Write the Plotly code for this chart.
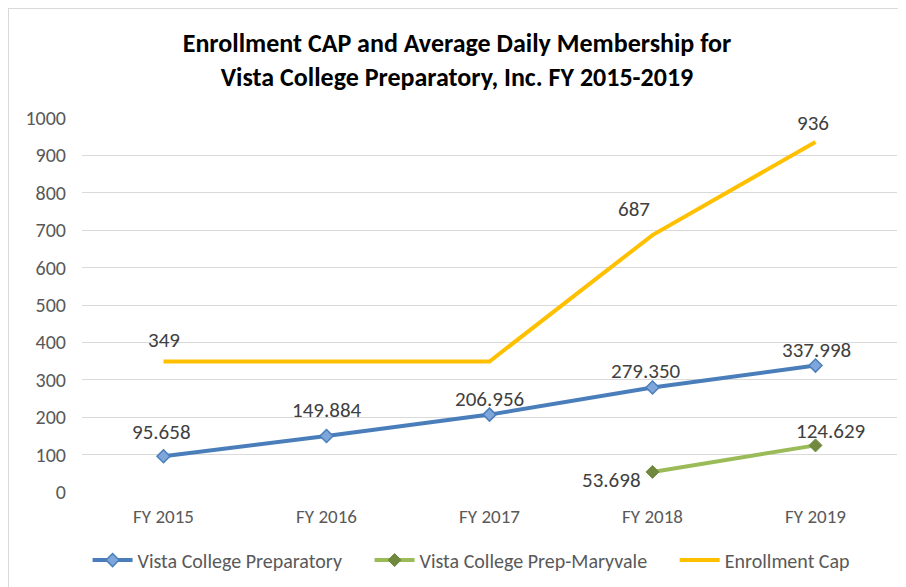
import plotly.graph_objects as go

categories = ["FY 2015", "FY 2016", "FY 2017", "FY 2018", "FY 2019"]
vista_prep = [95.658, 149.884, 206.956, 279.350, 337.998]
vista_prep_labels = ["95.658", "149.884", "206.956", "279.350", "337.998"]
maryvale = [None, None, None, 53.698, 124.629]
maryvale_labels = ["", "", "", "53.698", "124.629"]
enroll_cap = [349, 349, 349, 687, 936]
enroll_cap_labels = ["349", "", "", "687", "936"]
y_ticks = [0, 100, 200, 300, 400, 500, 600, 700, 800, 900, 1000]
series_names = ["Vista College Preparatory", "Vista College Prep-Maryvale", "Enrollment Cap"]

# label placement (pixel offsets of label centre relative to its point)
vista_off = [(-2, -23), (0, -25), (0, -15), (-7, -16), (1, -15)]
maryvale_off = [None, None, None, (-41, 9), (15, -13)]
cap_off = [(0, -20), None, None, (-19, -25), (-3, -18)]

FONT = "Carlito, Calibri, Lato, sans-serif"
LABEL_FONT = dict(size=21, color="#404040", family=FONT)
PAD = "\u00a0" * 5  # extra spacing between legend entries

fig = go.Figure()
fig.add_trace(go.Scatter(
    x=categories, y=vista_prep, name=series_names[0] + PAD,
    mode="lines+markers",
    line=dict(color="#4A7EBB", width=4),
    marker=dict(symbol="diamond", size=10, color="#7FA6DA", line=dict(color="#4A7EBB", width=1.5)),
))
fig.add_trace(go.Scatter(
    x=categories, y=maryvale, name=series_names[1] + PAD,
    mode="lines+markers",
    line=dict(color="#9BBB59", width=4),
    marker=dict(symbol="diamond", size=10, color="#71893F", line=dict(color="#71893F", width=1)),
))
fig.add_trace(go.Scatter(
    x=categories, y=enroll_cap, name=series_names[2],
    mode="lines",
    line=dict(color="#FFC000", width=4),
))

annotations = []
for values, labels, offs in [(vista_prep, vista_prep_labels, vista_off),
                             (maryvale, maryvale_labels, maryvale_off),
                             (enroll_cap, enroll_cap_labels, cap_off)]:
    for cat, v, lab, off in zip(categories, values, labels, offs):
        if v is None or not lab or off is None:
            continue
        annotations.append(dict(x=cat, y=v, xref="x", yref="y", text=lab, showarrow=False,
                                xanchor="center", yanchor="middle",
                                xshift=off[0], yshift=-off[1] + 1, font=LABEL_FONT))

fig.update_layout(
    width=898, height=579,
    margin=dict(l=74, r=9, t=110, b=95, autoexpand=False),
    paper_bgcolor="white", plot_bgcolor="white",
    title=dict(
        text="<b>Enrollment CAP and Average Daily Membership for<br>Vista College Preparatory, Inc. FY 2015-2019</b>",
        x=0.5, xanchor="center", y=0.924, yanchor="top",
        font=dict(family=FONT, size=26, color="black"),
    ),
    font=dict(family=FONT, size=19, color="#595959"),
    xaxis=dict(range=[-0.5, 4.5], showgrid=False, showline=False, ticks="", ticklabelstandoff=11,
               tickfont=dict(size=19, color="#595959")),
    yaxis=dict(range=[0, 1000], tickvals=y_ticks, showgrid=True, gridcolor="#D9D9D9", gridwidth=1.3,
               zeroline=False, ticks="", ticklabelstandoff=15, tickfont=dict(size=20, color="#595959")),
    legend=dict(orientation="h", x=0.478, xanchor="center", y=-0.182, yanchor="middle",
                font=dict(size=20, color="#595959"), itemwidth=40, tracegroupgap=0),
    showlegend=True,
    annotations=annotations,
    shapes=[dict(type="rect", xref="paper", yref="paper", x0=-74 / 815, x1=1.2, y0=-0.5, y1=1 + 110 / 374,
                 line=dict(color="#D9D9D9", width=2), fillcolor="rgba(0,0,0,0)", layer="below")],
)

fig.write_html("out.html")
